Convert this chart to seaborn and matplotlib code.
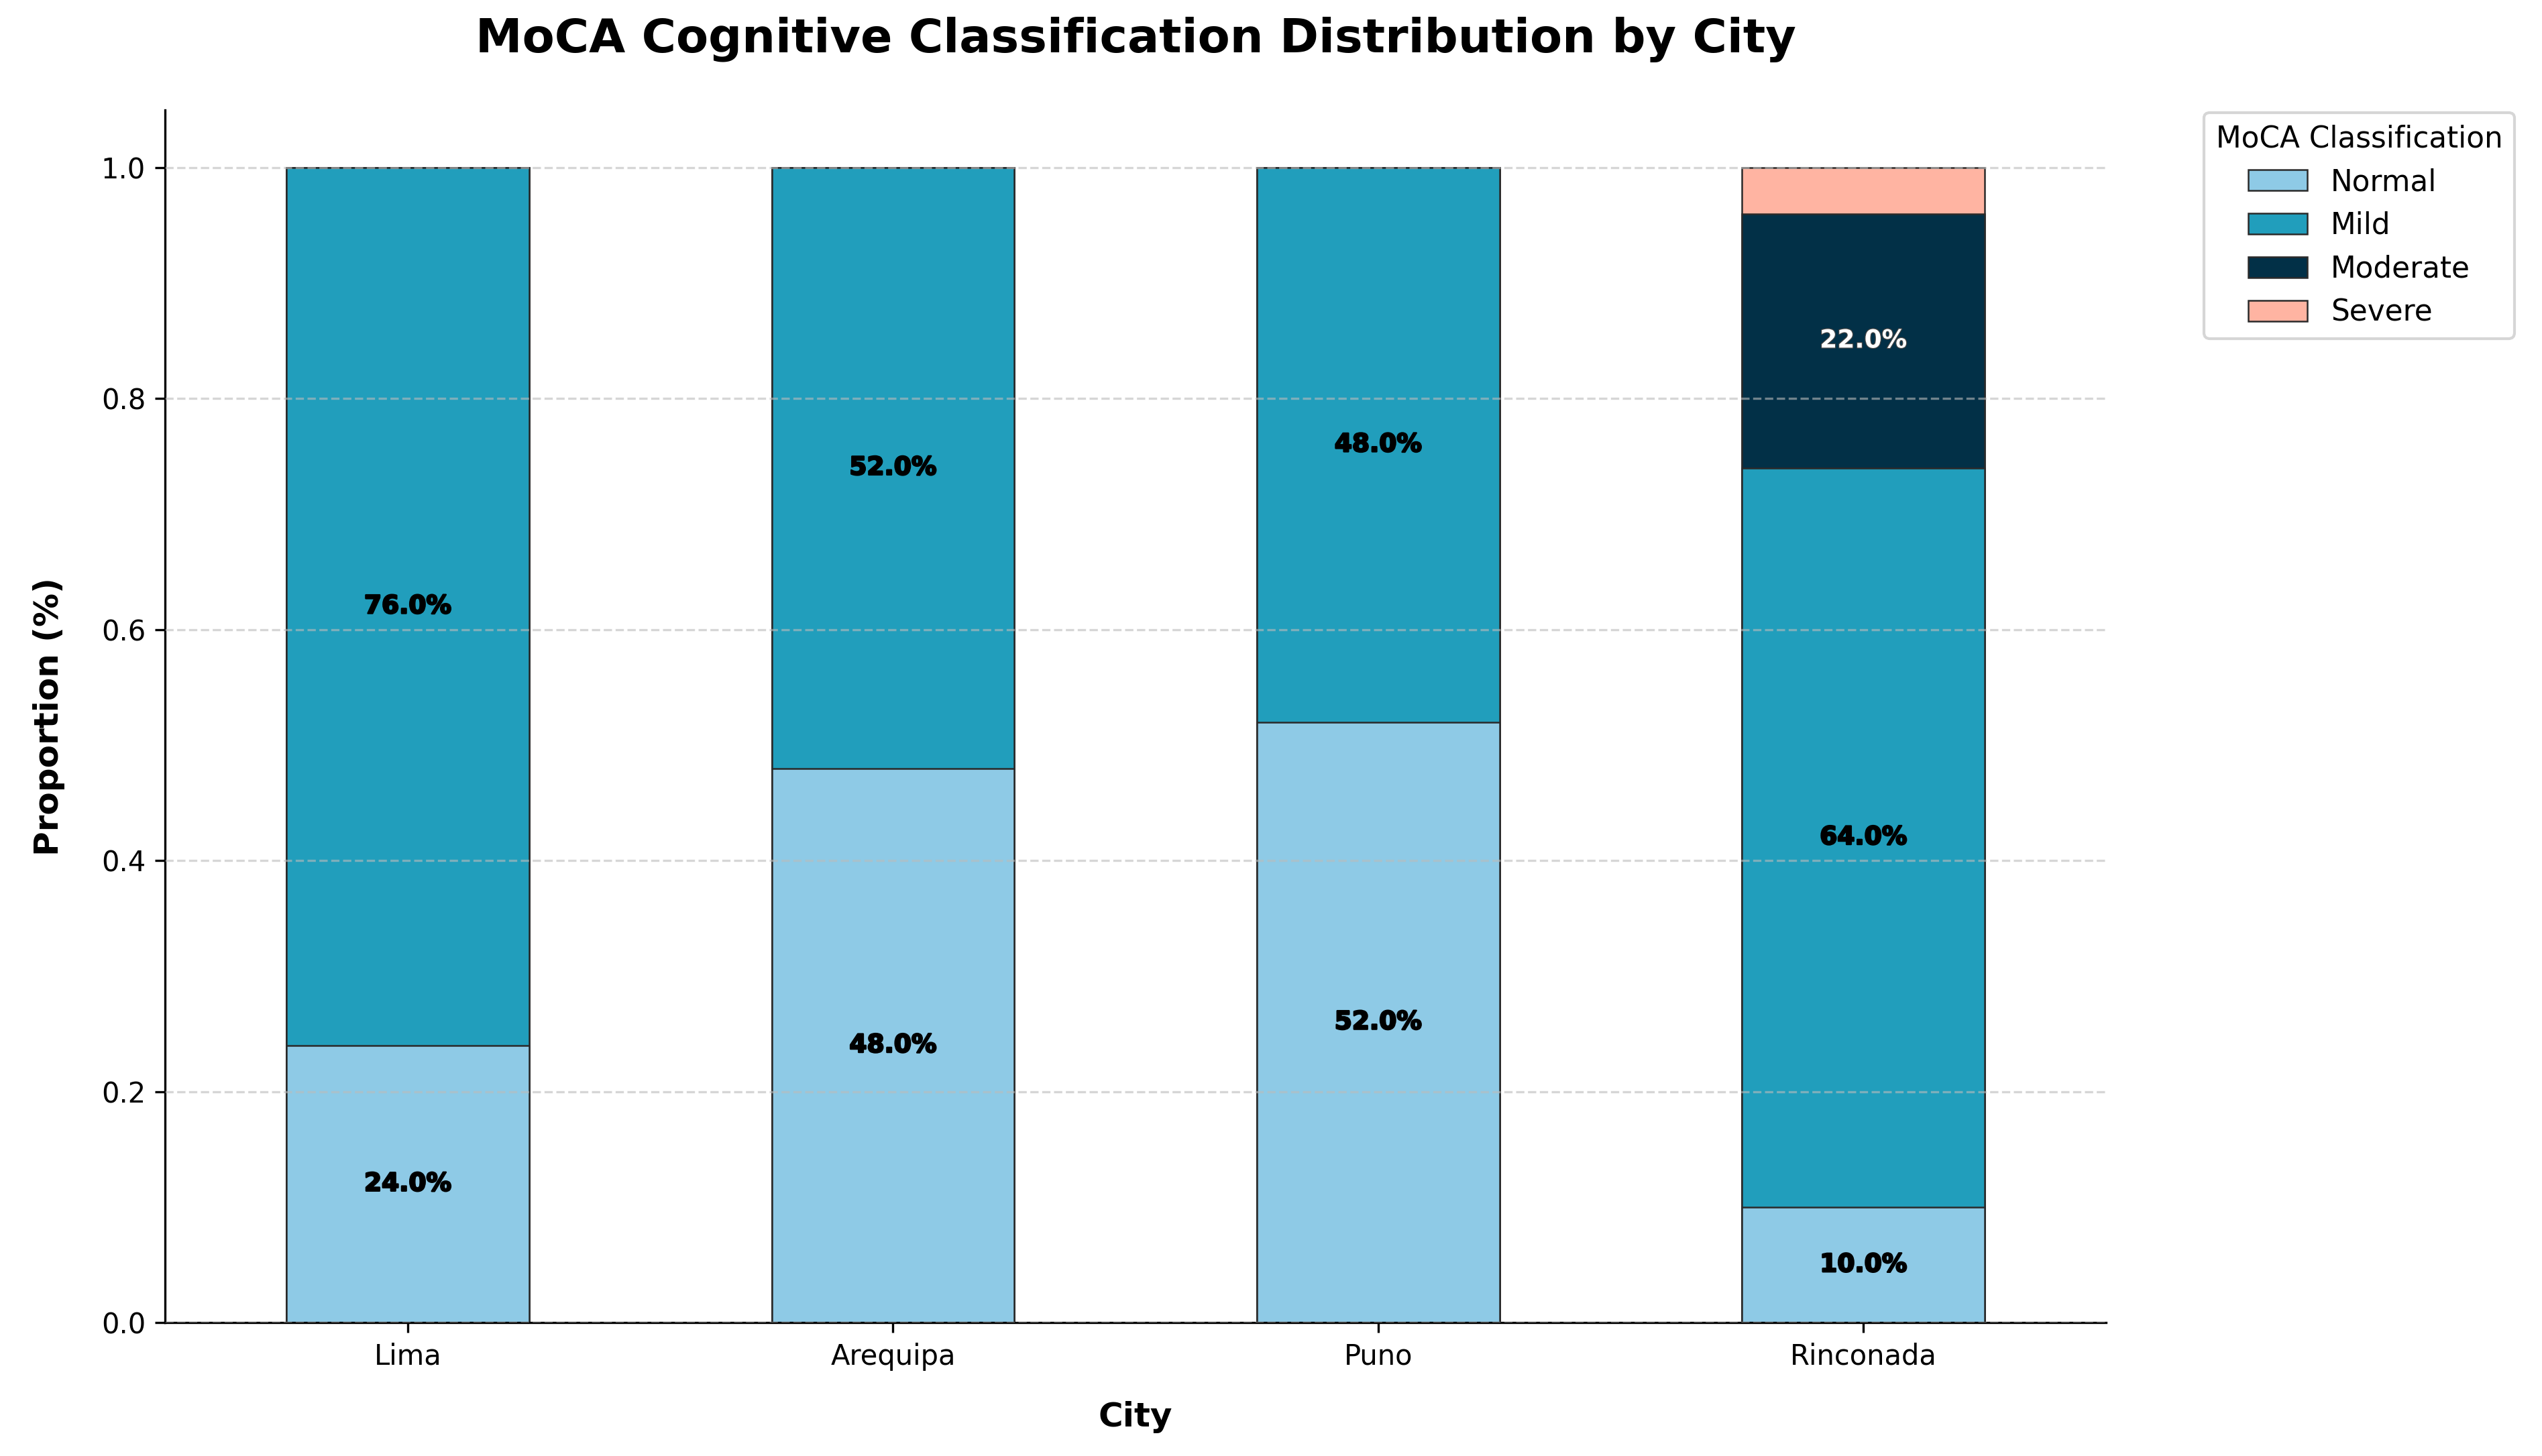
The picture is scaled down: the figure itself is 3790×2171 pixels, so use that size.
import numpy as np
import pandas as pd
import matplotlib
matplotlib.use("Agg")
import matplotlib.pyplot as plt
import matplotlib.patheffects as pe
from matplotlib.patches import Patch
import seaborn as sns

cities = ["Lima", "Arequipa", "Puno", "Rinconada"]
categories = ["Normal", "Mild", "Moderate", "Severe"]
normal = [0.24, 0.48, 0.52, 0.10]
mild = [0.76, 0.52, 0.48, 0.64]
moderate = [0.00, 0.00, 0.00, 0.22]
severe = [0.00, 0.00, 0.00, 0.04]
colors = ["#8ECAE6", "#219EBC", "#023047", "#FFB4A2"]

series = [normal, mild, moderate, severe]
vals = np.array(series)
cum = np.cumsum(vals, axis=0)

plt.rcParams["font.family"] = ["DejaVu Sans"]
plt.rcParams["axes.axisbelow"] = "line"

fig = plt.figure(figsize=(3790 / 300, 2171 / 300), dpi=300)
ax = fig.add_axes([0.065, 0.0915, 0.7635, 0.833])

# draw cumulative totals from top layer down so lower layers overlay
for i in range(len(categories) - 1, -1, -1):
    df = pd.DataFrame({"City": cities, "Value": cum[i]})
    sns.barplot(data=df, x="City", y="Value", color=colors[i], width=0.5,
                edgecolor="#2a2a2a", linewidth=0.6, saturation=1, ax=ax,
                errorbar=None)

ax.set_ylim(0, 1.05)
ax.set_xlim(-0.5, 3.5)
ax.grid(axis="y", linestyle="--", alpha=0.6, color="#bbbbbb", linewidth=0.8)
ax.set_axisbelow(False)
sns.despine(ax=ax)

for i, cat in enumerate(categories):
    for j in range(len(cities)):
        v = vals[i, j]
        if v > 0.05:
            y = cum[i, j] - v / 2
            tc = "white" if cat == "Moderate" else "black"
            ax.text(j, y, f"{v*100:.1f}%", ha="center", va="center",
                    fontsize=9, fontweight="bold", color=tc,
                    path_effects=[pe.withStroke(linewidth=0.6, foreground="black" if tc == "black" else "#444444")])

ax.set_title("MoCA Cognitive Classification Distribution by City",
             fontsize=16.8, fontweight="bold", pad=20.5)
ax.set_xlabel("City", fontsize=12, fontweight="bold", labelpad=11)
ax.set_ylabel("Proportion (%)", fontsize=12, fontweight="bold", labelpad=13)
ax.tick_params(labelsize=10)

handles = [Patch(facecolor=c, edgecolor="#2a2a2a", linewidth=0.6, label=l)
           for c, l in zip(colors, categories)]
ax.legend(handles=handles, title="MoCA Classification", loc="upper left",
          bbox_to_anchor=(1.043, 1.01), fontsize=10.5, title_fontsize=10.5)

fig.savefig("out.png", dpi=300)
